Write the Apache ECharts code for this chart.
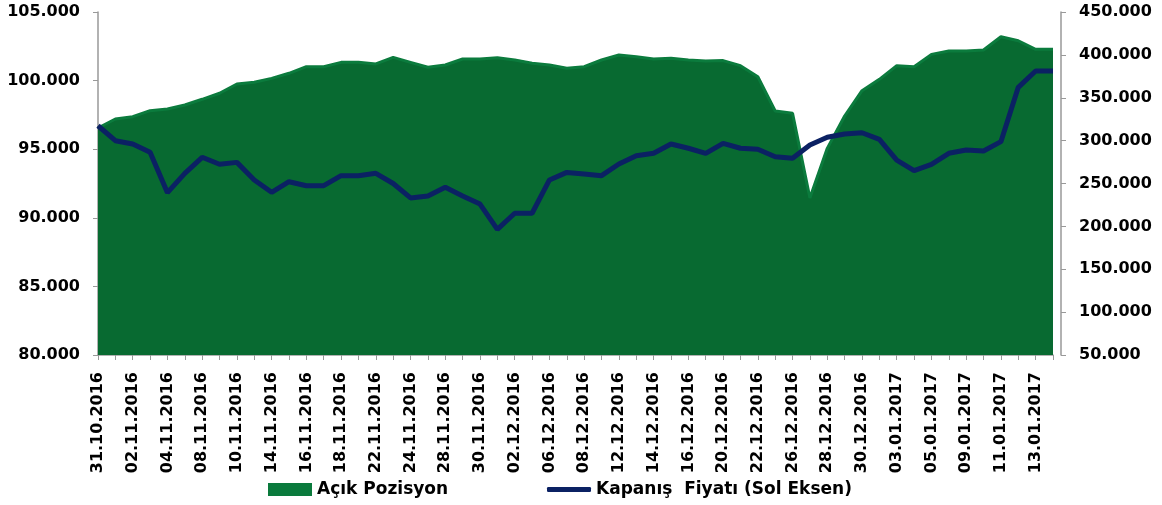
<!DOCTYPE html>
<html>
<head>
<meta charset="utf-8">
<script src="https://cdn.jsdelivr.net/npm/echarts@6/dist/echarts.min.js"></script>
<style>
html,body{margin:0;padding:0;background:#fff;}
#chart{width:1162px;height:505px;}
</style>
</head>
<body>
<div id="chart"></div>
<script>
// tarihler (iş günleri)
var dates = [
  '31.10.2016','01.11.2016','02.11.2016','03.11.2016','04.11.2016','07.11.2016','08.11.2016','09.11.2016',
  '10.11.2016','11.11.2016','14.11.2016','15.11.2016','16.11.2016','17.11.2016','18.11.2016','21.11.2016',
  '22.11.2016','23.11.2016','24.11.2016','25.11.2016','28.11.2016','29.11.2016','30.11.2016','01.12.2016',
  '02.12.2016','05.12.2016','06.12.2016','07.12.2016','08.12.2016','09.12.2016','12.12.2016','13.12.2016',
  '14.12.2016','15.12.2016','16.12.2016','19.12.2016','20.12.2016','21.12.2016','22.12.2016','23.12.2016',
  '26.12.2016','27.12.2016','28.12.2016','29.12.2016','30.12.2016','02.01.2017','03.01.2017','04.01.2017',
  '05.01.2017','06.01.2017','09.01.2017','10.01.2017','11.01.2017','12.01.2017','13.01.2017','16.01.2017'
];

// Açık pozisyon (sağ eksen)
var acikPozisyon = [
  314700, 325200, 327900, 334900, 336900, 341500, 348200, 355200, 366000, 368000,
  372600, 378500, 386200, 386200, 391300, 391300, 389400, 397100, 391300, 385500,
  388200, 395200, 395200, 396700, 394000, 390200, 388200, 384300, 386200, 394000,
  399900, 397900, 395200, 396000, 394000, 392900, 393300, 387400, 374600, 334500,
  331800, 233100, 291000, 328700, 358300, 371500, 387400, 386200, 400600, 404500,
  404500, 405700, 421200, 416500, 406500, 406500
];

// Kapanış fiyatı (sol eksen)
var kapanis = [
  96710, 95620, 95380, 94770, 91830, 93240, 94410, 93900, 94040, 92760,
  91860, 92630, 92340, 92340, 93070, 93070, 93240, 92500, 91450, 91590,
  92220, 91590, 91000, 89160, 90330, 90330, 92760, 93310, 93190, 93070,
  93920, 94530, 94700, 95380, 95070, 94700, 95430, 95070, 95000, 94450,
  94340, 95310, 95870, 96110, 96200, 95720, 94210, 93440, 93900, 94700,
  94940, 94870, 95550, 99510, 100700, 100700
];

var seriesNames = ['Açık Pozisyon', 'Kapanış  Fiyatı (Sol Eksen)'];

var fontFam = '"DejaVu Sans", "Liberation Sans", Arial, sans-serif';

function fmt(v){
  return (v / 1000).toFixed(3);
}

var legendText = {
  color: '#000',
  fontSize: 17,
  fontWeight: 'bold',
  fontFamily: fontFam
};

var myChart = echarts.init(document.getElementById('chart'));
var option = {
  animation: false,
  grid: {
    left: 98,
    right: 109,
    top: 12,
    bottom: 150
  },
  // iki ayrı lejant: ikon boyları farklı
  legend: [
    {
      left: 268,
      top: 481,
      padding: 0,
      itemWidth: 44,
      itemHeight: 13,
      textStyle: legendText,
      data: [{name: seriesNames[0], icon: 'rect', itemStyle: {color: '#0a7a3c', borderWidth: 0}}]
    },
    {
      left: 547,
      top: 481,
      padding: 0,
      itemWidth: 44,
      itemHeight: 5,
      textStyle: legendText,
      data: [{name: seriesNames[1], icon: 'roundRect', itemStyle: {color: '#0b2163', borderWidth: 0}}]
    }
  ],
  xAxis: {
    type: 'category',
    boundaryGap: false,
    data: dates,
    axisLine: {lineStyle: {color: '#999', width: 1.5}},
    axisTick: {show: true, interval: 0, length: 5, lineStyle: {color: '#999'}},
    axisLabel: {
      interval: 1,
      rotate: 90,
      margin: 17,
      color: '#000',
      fontSize: 16,
      fontWeight: 'bold',
      fontFamily: fontFam
    },
    splitLine: {show: false}
  },
  yAxis: [
    {
      type: 'value',
      position: 'left',
      min: 80000,
      max: 105000,
      interval: 5000,
      axisLine: {show: true, lineStyle: {color: '#999', width: 1.5}},
      axisTick: {show: true, length: 5, lineStyle: {color: '#999'}},
      axisLabel: {
        margin: 18,
        color: '#000',
        fontSize: 16,
        fontWeight: 'bold',
        fontFamily: fontFam,
        formatter: fmt
      },
      splitLine: {show: false}
    },
    {
      type: 'value',
      position: 'right',
      offset: 8,
      min: 50000,
      max: 450000,
      interval: 50000,
      axisLine: {show: true, lineStyle: {color: '#999', width: 1.5}},
      axisTick: {show: true, length: 5, lineStyle: {color: '#999'}},
      axisLabel: {
        margin: 18,
        color: '#000',
        fontSize: 16,
        fontWeight: 'bold',
        fontFamily: fontFam,
        formatter: fmt
      },
      splitLine: {show: false}
    }
  ],
  series: [
    {
      name: seriesNames[0],
      type: 'line',
      yAxisIndex: 1,
      symbol: 'none',
      z: 2,
      itemStyle: {color: '#0a7a3c'},
      lineStyle: {color: '#0b7b3d', width: 3},
      areaStyle: {color: '#086a31', opacity: 1, origin: 'start'},
      data: acikPozisyon
    },
    {
      name: seriesNames[1],
      type: 'line',
      yAxisIndex: 0,
      symbol: 'none',
      z: 3,
      itemStyle: {color: '#0b2163'},
      lineStyle: {color: '#0b2163', width: 5},
      data: kapanis
    }
  ]
};
myChart.setOption(option);
</script>
</body>
</html>
